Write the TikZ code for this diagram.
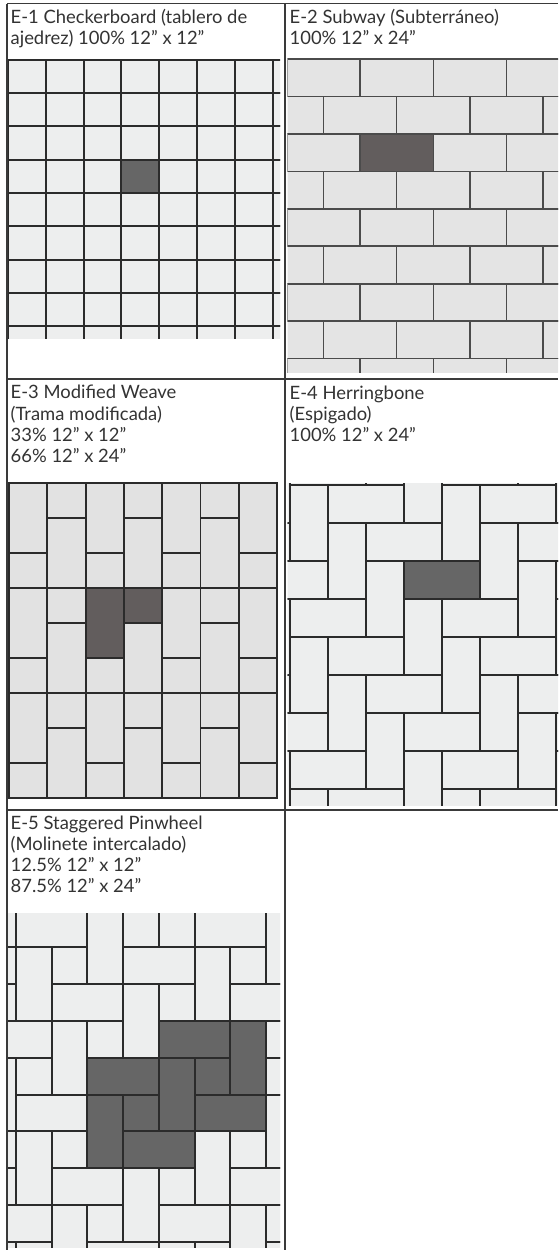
\documentclass[tikz,border=0pt]{standalone}
\usepackage{fontspec}
\setmainfont{Lato}
\usepackage{xcolor}

\definecolor{grout}{HTML}{2B2B2B}
\definecolor{ruleline}{HTML}{3A3A3A}
\definecolor{captext}{HTML}{333333}
\definecolor{tilelight}{HTML}{EDEEEE}
\definecolor{subwaylight}{HTML}{E4E4E4}
\definecolor{weavelight}{HTML}{E2E2E2}
\definecolor{tiledark}{HTML}{666666}
\definecolor{browndark}{HTML}{625D5D}

\begin{document}
\begin{tikzpicture}[x=1pt, y=-1pt,
  rule/.style={draw=ruleline, line width=1.7pt},
  tile/.style={draw=grout, line width=2pt, fill=tilelight},
  brick/.style={draw=grout!85, line width=1.6pt, fill=subwaylight},
  weave/.style={draw=grout, line width=1.8pt, fill=weavelight},
  caption/.style={anchor=base west, inner sep=0pt, align=left,
    font=\fontsize{18.4}{21.2}\selectfont, text=captext}]
  \useasboundingbox (0,0) rectangle (558,1250);
  \fill[white] (0,0) rectangle (558,1250);

  % E-1 checkerboard
  \begin{scope}
    \clip (8,58) rectangle (280,338);
    \foreach \c in {0,...,7}
      \foreach \r in {0,...,8}
        \draw[tile] ({8+37.8*\c},{59.7+33.3*\r}) rectangle ++(37.8,33.3);
    \draw[tile, fill=tiledark] ({8+37.8*3},{59.7+33.3*3}) rectangle ++(37.8,33.3);
  \end{scope}

  % E-2 subway
  \begin{scope}
    \clip (287.5,58) rectangle (558,372);
    \foreach \r in {0,...,8}
      \foreach \k in {-1,...,4}
        \draw[brick] ({286.7+73.3*\k-36.65*mod(\r,2)},{59+37.45*\r}) rectangle ++(73.3,37.45);
    \draw[brick, fill=browndark] (360,133.9) rectangle ++(73.3,37.45);
  \end{scope}

  % E-3 modified weave
  \foreach \c in {0,...,6}
    \foreach \k in {0,1,2} {
      \ifodd\c
        \draw[weave] ({9+38.3*\c},{483+105*\k}) rectangle ++(38.3,35);
        \draw[weave] ({9+38.3*\c},{518+105*\k}) rectangle ++(38.3,70);
      \else
        \draw[weave] ({9+38.3*\c},{483+105*\k}) rectangle ++(38.3,70);
        \draw[weave] ({9+38.3*\c},{553+105*\k}) rectangle ++(38.3,35);
      \fi
    }
  \draw[weave, fill=browndark] (85.6,588) rectangle ++(38.3,70);
  \draw[weave, fill=browndark] (123.9,588) rectangle ++(38.3,35);

  % E-4 herringbone
  \begin{scope}
    \clip (287.5,483) rectangle (558,805);
    \begin{scope}[shift={(404,561)}, x=38pt, y=-38pt]
      \foreach \i in {-5,...,7}
        \foreach \j in {-4,...,3} {
          \draw[tile] ({\i+2*\j},{\i-2*\j}) rectangle ++(2,1);
          \draw[tile] ({\i+2*\j-1},{\i-2*\j}) rectangle ++(1,2);
        }
      \draw[tile, fill=tiledark] (0,0) rectangle ++(2,1);
    \end{scope}
  \end{scope}

  % E-5 staggered pinwheel
  \begin{scope}
    \clip (8,913) rectangle (280,1247);
    \begin{scope}[shift={(16,947.3)}, x=35.7pt, y=-36.83pt]
      \foreach \a in {-4,...,6}
        \foreach \b in {-4,...,4} {
          \pgfmathsetmacro\sx{5-2*\a-\b}
          \pgfmathsetmacro\sy{3+\a+3*\b}
          \draw[tile] (\sx,\sy) rectangle ++(1,1);
          \draw[tile] (\sx,\sy+1) rectangle ++(2,1);
          \draw[tile] (\sx+1,\sy-1) rectangle ++(1,2);
        }
      \draw[tile, fill=tiledark] (5,3) rectangle ++(1,1) (5,4) rectangle ++(2,1)
        (6,2) rectangle ++(1,2);
      \draw[tile, fill=tiledark] (3,4) rectangle ++(1,1) (3,5) rectangle ++(2,1)
        (4,3) rectangle ++(1,2);
      \draw[tile, fill=tiledark] (4,2) rectangle ++(2,1) (2,3) rectangle ++(2,1)
        (2,4) rectangle ++(1,2);
    \end{scope}
  \end{scope}

  % table rules
  \draw[rule] (7,3.5) -- (558,3.5);
  \draw[rule] (7,3.5) -- (7,1250);
  \draw[rule] (285,3.5) -- (285,1250);
  \draw[rule] (7,379) -- (558,379);
  \draw[rule] (7,810) -- (558,810);

  % captions (anchored at the baseline of their last line)
  \node[caption] (checker) at (10.5,44.3) {E-1 Checkerboard (tablero de\\ajedrez) 100\% 12” x 12”};
  \node[caption] (subway) at (289.5,44.3) {E-2 Subway (Subterráneo)\\100\% 12” x 24”};
  \node[caption] (weave) at (10.5,462.5) {E-3 Modified Weave\\(Trama modificada)\\33\% 12” x 12”\\66\% 12” x 24”};
  \node[caption] (herring) at (289.5,441.5) {E-4 Herringbone\\(Espigado)\\100\% 12” x 24”};
  \node[caption] (pinwheel) at (10.5,892.7) {E-5 Staggered Pinwheel\\(Molinete intercalado)\\12.5\% 12” x 12”\\87.5\% 12” x 24”};
\end{tikzpicture}
\end{document}
